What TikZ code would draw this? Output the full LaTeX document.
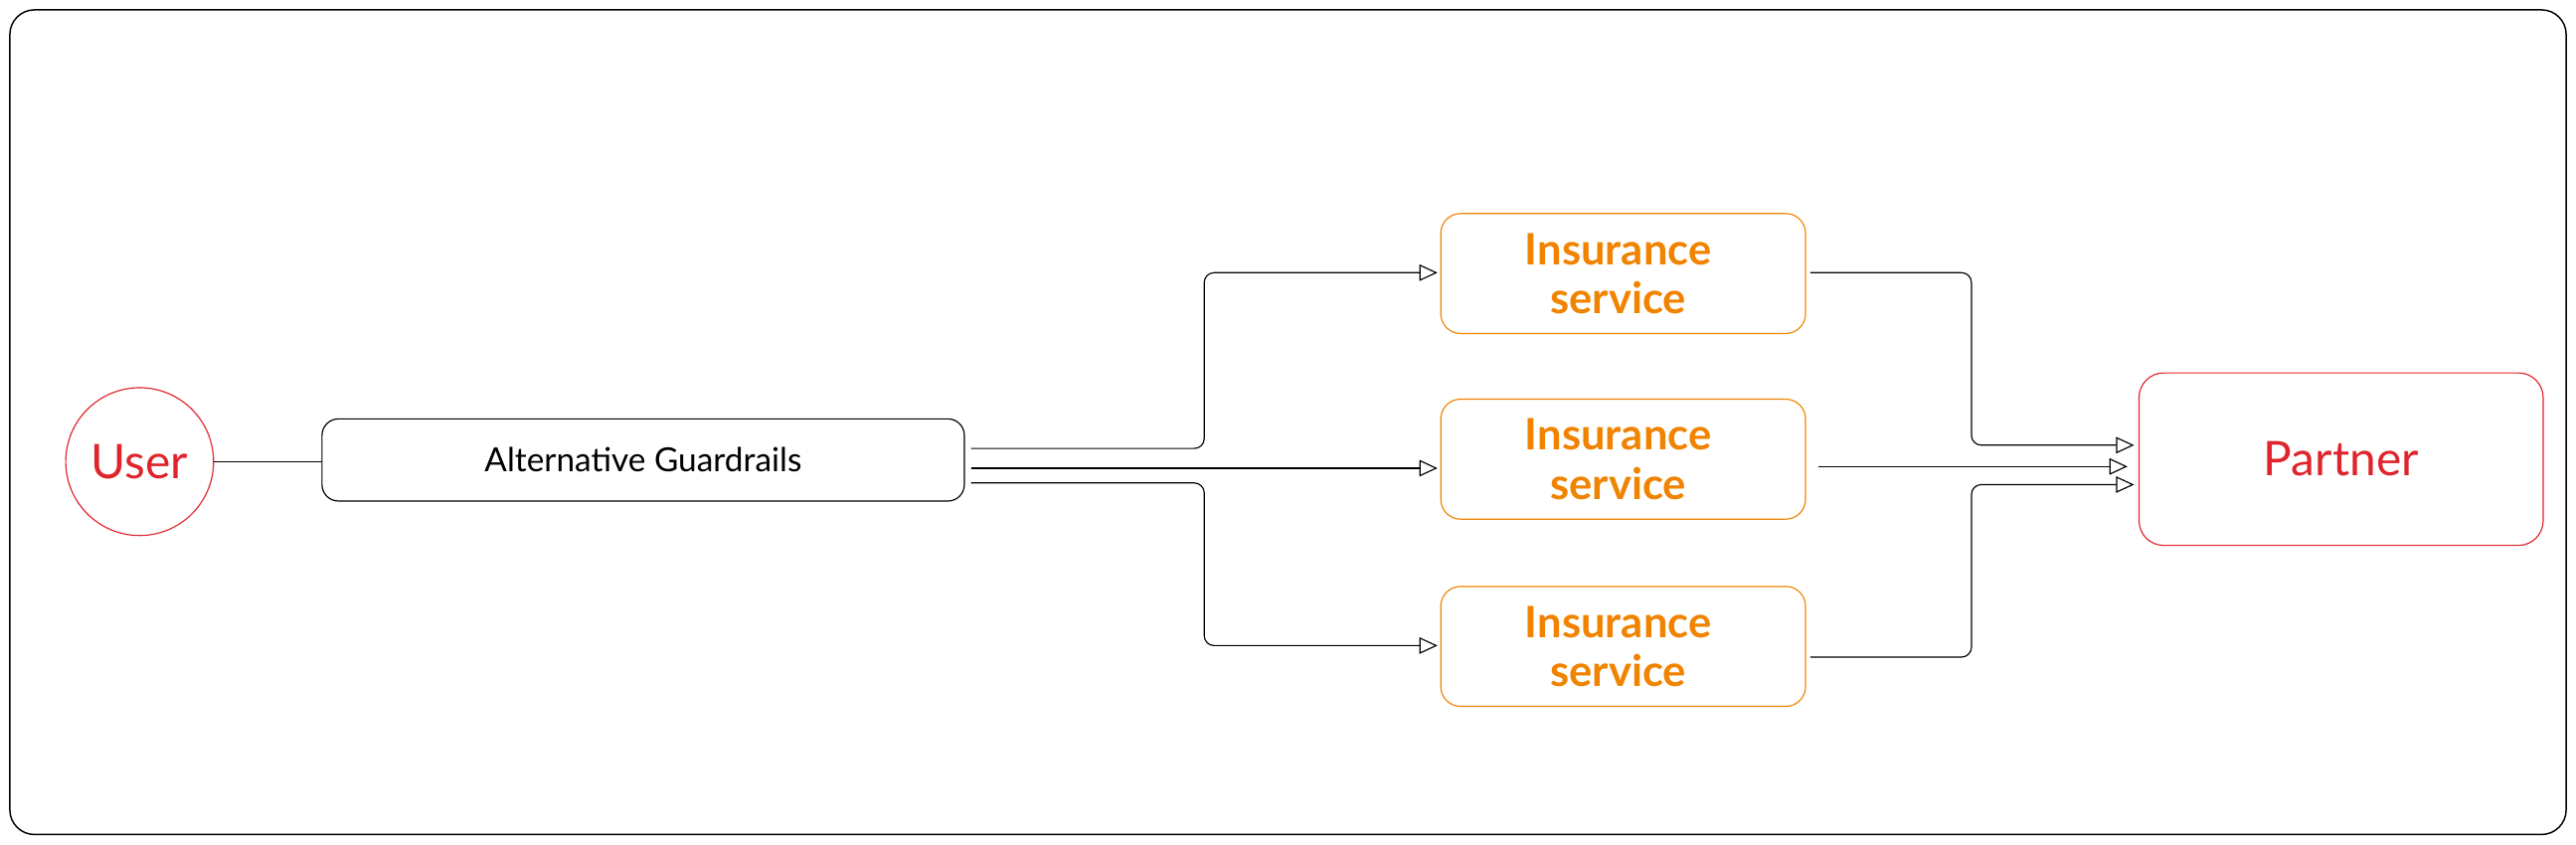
\documentclass[tikz,border=0pt]{standalone}
\usepackage{fontspec}
\setmainfont{Lato}
\usetikzlibrary{arrows.meta}
\definecolor{org}{HTML}{F08300}
\definecolor{rd}{HTML}{E0242B}
\begin{document}
\begin{tikzpicture}[x=0.02cm,y=-0.02cm,
  ins/.style={draw=org,rounded corners=0.24cm,text=org,font=\fontsize{15}{17}\selectfont\bfseries,align=center},
  conn/.style={draw=black,line width=0.4pt,rounded corners=0.12cm},
  arr/.style={conn,-{Triangle[open,length=0.22cm,width=0.2cm]}}]
\useasboundingbox (0,0) rectangle (1568,514);
\draw[rounded corners=0.3cm,line width=0.5pt] (6,6) rectangle (1562,508);
\node (u) [circle,draw=rd,minimum size=1.8cm,text=rd,font=\fontsize{16.5}{20}\selectfont] at (85,281) {User};
\draw[rounded corners=0.2cm] (196,255) rectangle (587,305);
\node (g) at (391.5,280) {\fontsize{11.5}{14}\selectfont Alternative Guardrails};
\draw[ins] (877,130) rectangle (1099,203); \node[ins,draw=none] (i1) at (985,166.5) {Insurance\\service};
\draw[ins] (877,243) rectangle (1099,316); \node[ins,draw=none] (i2) at (985,279.5) {Insurance\\service};
\draw[ins] (877,357) rectangle (1099,430); \node[ins,draw=none] (i3) at (985,393.5) {Insurance\\service};
\draw[draw=rd,rounded corners=0.3cm] (1302,227) rectangle (1548,332);
\node (p) [text=rd,font=\fontsize{16.5}{20}\selectfont] at (1425,279.5) {Partner};
\draw[conn] (u.east) -- (196,281);
\draw[arr] (591,273) -- (733,273) -- (733,166) -- (875,166);
\draw[arr] (591,285) -- (875,285);
\draw[arr] (591,294) -- (733,294) -- (733,393) -- (875,393);
\draw[arr] (1102,166) -- (1200,166) -- (1200,271) -- (1299,271);
\draw[arr] (1107,284) -- (1295,284);
\draw[arr] (1102,400) -- (1200,400) -- (1200,295) -- (1299,295);
\end{tikzpicture}
\end{document}
